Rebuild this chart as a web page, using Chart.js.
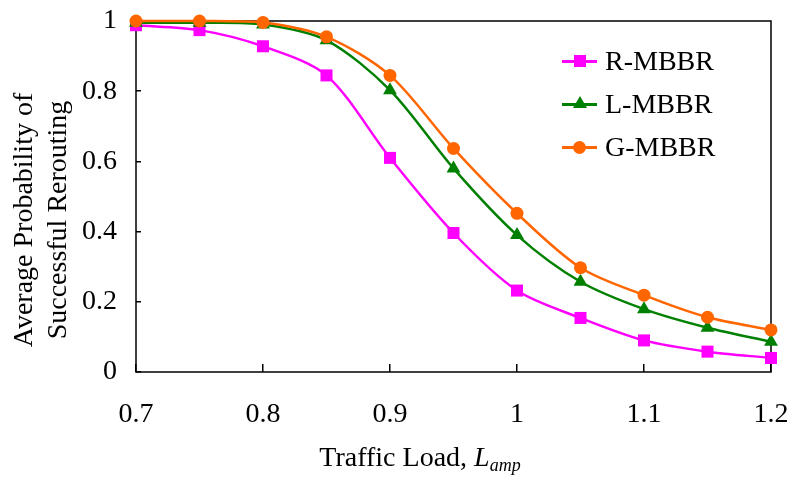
<!DOCTYPE html>
<html>
<head>
  <title>Average Probability of Successful Rerouting</title>
  <style>
    body {
      margin: 0;
      padding: 0;
      background: #ffffff;
      font-family: "Liberation Serif", "Times New Roman", serif;
    }

    #wrap {
      position: relative;
      width: 789px;
      height: 478px;
    }

    #graph {
      position: absolute;
      left: 0;
      top: 0;
    }

    #ytitle {
      position: absolute;
      left: 40px;
      top: 220px;
      width: 320px;
      transform: translate(-50%, -50%) rotate(-90deg);
      text-align: center;
      font-size: 28px;
      line-height: 34px;
      color: #000;
      white-space: nowrap;
    }

    #xtitle {
      position: absolute;
      left: 420px;
      top: 440px;
      transform: translateX(-50%);
      font-size: 28px;
      line-height: 34px;
      color: #000;
      white-space: nowrap;
    }

    #xtitle sub {
      font-size: 18px;
      vertical-align: -5px;
      line-height: 0;
    }

    #legend {
      position: absolute;
      left: 562px;
      top: 44px;
    }

    .item {
      position: relative;
      height: 43px;
      font-size: 28px;
      line-height: 34px;
      color: #000;
    }

    .item .line {
      position: absolute;
      left: 0;
      top: 16px;
      width: 35px;
      height: 3px;
    }

    .item .mark {
      position: absolute;
    }

    .item span {
      position: absolute;
      left: 43px;
      top: 0;
      white-space: nowrap;
    }
  </style>
</head>
<body>

  <div id="wrap">
    <canvas id="graph" width="789" height="478"></canvas>
    <div id="ytitle">Average Probability of<br>Successful Rerouting</div>
    <div id="xtitle">Traffic Load, <i>L</i><sub><i>amp</i></sub></div>
    <div id="legend">
      <div class="item">
        <div class="line" style="background:#ff00ff"></div>
        <div class="mark" style="left:12px;top:11px;width:12px;height:12px;background:#ff00ff"></div>
        <span>R-MBBR</span>
      </div>
      <div class="item">
        <div class="line" style="background:#008000"></div>
        <div class="mark" style="left:11px;top:9px;width:0;height:0;border-left:7px solid transparent;border-right:7px solid transparent;border-bottom:12px solid #008000"></div>
        <span>L-MBBR</span>
      </div>
      <div class="item">
        <div class="line" style="background:#ff6600"></div>
        <div class="mark" style="left:11px;top:11px;width:13px;height:13px;border-radius:50%;background:#ff6600"></div>
        <span>G-MBBR</span>
      </div>
    </div>
  </div>

  <script src="https://cdn.jsdelivr.net/npm/chart.js"></script>
  <script>
    // Traffic load values (x axis)
    const loads = [0.7, 0.75, 0.8, 0.85, 0.9, 0.95, 1.0, 1.05, 1.1, 1.15, 1.2];

    // Average probability of successful rerouting
    const rMbbr = [0.988, 0.974, 0.928, 0.845, 0.61, 0.396, 0.232, 0.154, 0.09, 0.058, 0.04];
    const lMbbr = [0.995, 0.995, 0.99, 0.945, 0.803, 0.58, 0.39, 0.257, 0.179, 0.126, 0.086];
    const gMbbr = [1.0, 1.0, 0.996, 0.955, 0.845, 0.637, 0.452, 0.297, 0.219, 0.156, 0.12];

    const xTicks = [0.7, 0.8, 0.9, 1.0, 1.1, 1.2];
    const yTicks = [0, 0.2, 0.4, 0.6, 0.8, 1];

    const toPoints = values => loads.map((x, i) => ({ x: x, y: values[i] }));

    // Frame around the plot area (top and right lines as in the original)
    const frame = {
      id: 'frame',
      beforeDatasetsDraw(chart) {
        const a = chart.chartArea;
        const ctx = chart.ctx;
        ctx.save();
        ctx.strokeStyle = '#000';
        ctx.lineWidth = 1.5;
        ctx.strokeRect(a.left, a.top, a.right - a.left, a.bottom - a.top);
        ctx.restore();
      }
    };

    const tickFont = { family: '"Liberation Serif", "Times New Roman", serif', size: 28 };

    new Chart(document.getElementById('graph'), {
      type: 'line',
      data: {
        datasets: [
          {
            label: 'R-MBBR',
            data: toPoints(rMbbr),
            borderColor: '#ff00ff',
            backgroundColor: '#ff00ff',
            pointStyle: 'rect',
            pointRadius: 8.5,
            order: 3
          },
          {
            label: 'L-MBBR',
            data: toPoints(lMbbr),
            borderColor: '#008000',
            backgroundColor: '#008000',
            pointStyle: 'triangle',
            pointRadius: 8,
            order: 2
          },
          {
            label: 'G-MBBR',
            data: toPoints(gMbbr),
            borderColor: '#ff6600',
            backgroundColor: '#ff6600',
            pointStyle: 'circle',
            pointRadius: 6.5,
            order: 1
          }
        ]
      },
      options: {
        responsive: false,
        animation: false,
        layout: { padding: { top: 21, right: 18, left: 0, bottom: 0 } },
        datasets: {
          line: {
            borderWidth: 2.5,
            tension: 0.3,
            pointBorderWidth: 0,
            pointHoverRadius: 0,
            clip: false
          }
        },
        plugins: {
          legend: { display: false },
          tooltip: { enabled: false }
        },
        scales: {
          x: {
            type: 'linear',
            min: 0.7,
            max: 1.2,
            afterBuildTicks: scale => { scale.ticks = xTicks.map(v => ({ value: v })); },
            afterFit: scale => {
              scale.height = 106;
              scale.paddingLeft = 0;
              scale.paddingRight = 0;
            },
            border: { display: false },
            grid: { drawOnChartArea: false, drawTicks: true, tickLength: -8, color: '#000', lineWidth: 1.5 },
            ticks: {
              color: '#000',
              font: tickFont,
              padding: 34,
              maxRotation: 0,
              callback: v => String(Number(v.toFixed(1)))
            }
          },
          y: {
            min: 0,
            max: 1,
            afterBuildTicks: scale => { scale.ticks = yTicks.map(v => ({ value: v })); },
            afterFit: scale => {
              scale.width = 136;
              scale.paddingTop = 0;
              scale.paddingBottom = 0;
            },
            border: { display: false },
            grid: { drawOnChartArea: false, drawTicks: true, tickLength: -5, color: '#000', lineWidth: 1.5 },
            ticks: {
              color: '#000',
              font: tickFont,
              padding: 24,
              callback: v => String(Number(v.toFixed(1)))
            }
          }
        }
      },
      plugins: [frame]
    });
  </script>
</body>
</html>
